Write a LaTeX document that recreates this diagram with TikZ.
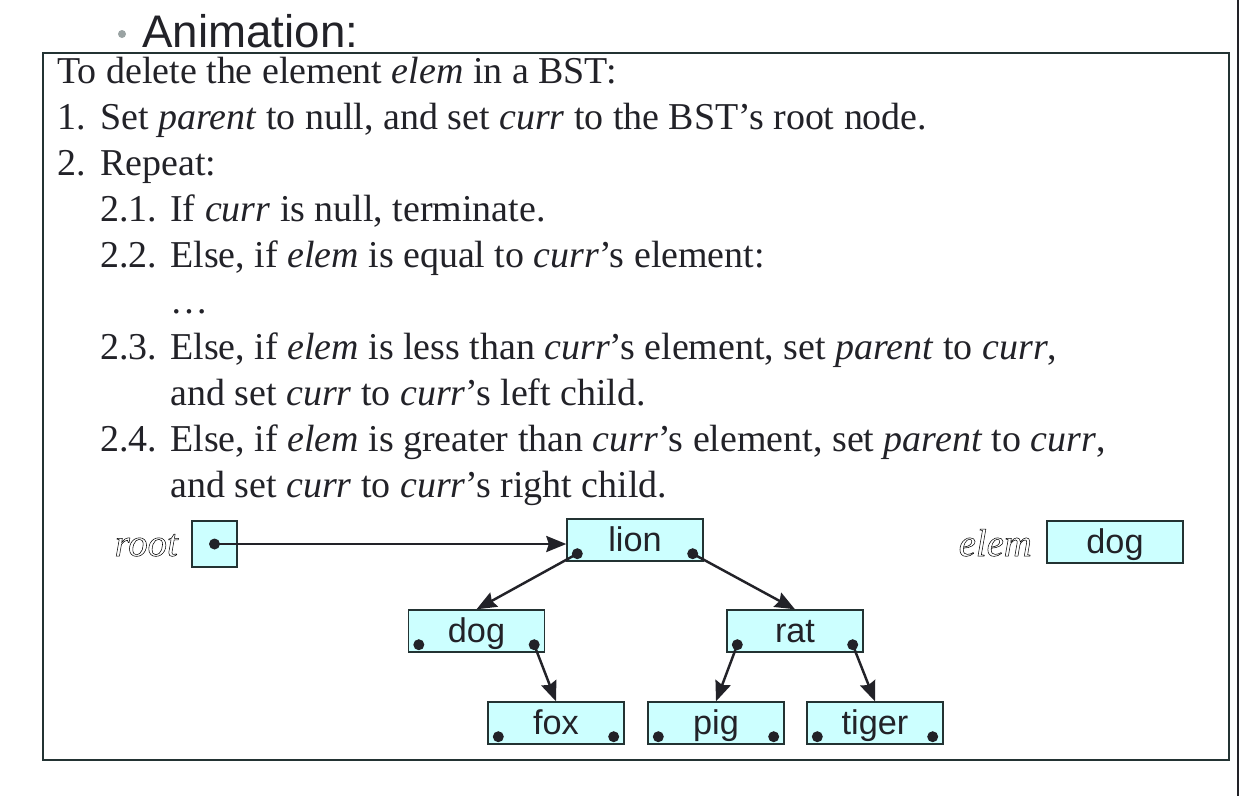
\documentclass[tikz,border=0pt]{standalone}
\usepackage{fontspec}
\setmainfont{Liberation Serif}
\setsansfont{Liberation Sans}
\usetikzlibrary{arrows.meta}

\definecolor{boxfill}{HTML}{CCFFFF}
\definecolor{boxline}{HTML}{233333}
\definecolor{inkdark}{HTML}{222228}
\definecolor{bulletgray}{HTML}{9AA3A3}

\newcommand{\hollow}[1]{\special{pdf:literal direct 1 Tr}#1\special{pdf:literal direct 0 Tr}}

\tikzset{
    txt/.style={anchor=base west, inner sep=0pt, text=inkdark, font=\fontsize{21.6}{26}\selectfont},
    animal/.style={draw=boxline, fill=boxfill, line width=0.8pt, minimum width=2.72cm, minimum height=0.84cm,
        inner sep=0pt, text height=13.6pt, text depth=0pt, text=inkdark, font=\sffamily\fontsize{19.5}{22}\selectfont},
    cell/.style={draw=boxline, fill=boxfill, line width=0.8pt, minimum width=0.9cm, minimum height=0.92cm, inner sep=0pt},
    link/.style={-{Stealth[length=0.4cm, width=0.32cm, inset=0.05cm]}, line width=1.4pt, draw=inkdark},
    ghost/.style={anchor=base east, inner sep=0pt, line width=0.3pt, font=\fontsize{22}{26}\selectfont\itshape}
}

\begin{document}
\begin{tikzpicture}[x=0.02cm, y=-0.02cm]
        \useasboundingbox (0,0) rectangle (1240,796);
        \fill[white] (0,0) rectangle (1240,796);
        \draw[inkdark, line width=0.6pt] (1238,0) -- (1238,796);

        \fill[bulletgray] (122,34) circle (4);
        \node[anchor=base west, inner sep=0pt, text=inkdark, font=\sffamily\fontsize{26}{30}\selectfont] (title) at (142,47) {Animation:};
        \draw[boxline, line width=1pt] (43,53) rectangle (1229,760);

        \node[txt] (intro) at (57,83) {To delete the element \textit{elem} in a BST:};
        \node[txt] (n1) at (57,129) {1.};
        \node[txt] (s1) at (100,129) {Set \textit{parent} to null, and set \textit{curr} to the BST’s root node.};
        \node[txt] (n2) at (57,175) {2.};
        \node[txt] (s2) at (100,175) {Repeat:};
        \node[txt] (n21) at (100,221) {2.1.};
        \node[txt] (s21) at (170,221) {If \textit{curr} is null, terminate.};
        \node[txt] (n22) at (100,267) {2.2.};
        \node[txt] (s22) at (170,267) {Else, if \textit{elem} is equal to \textit{curr}’s element:};
        \node[txt] (dots) at (170,313) {…};
        \node[txt] (n23) at (100,359) {2.3.};
        \node[txt] (s23) at (170,359) {Else, if \textit{elem} is less than \textit{curr}’s element, set \textit{parent} to \textit{curr},};
        \node[txt] (s23b) at (170,405) {and set \textit{curr} to \textit{curr}’s left child.};
        \node[txt] (n24) at (100,451) {2.4.};
        \node[txt] (s24) at (170,451) {Else, if \textit{elem} is greater than \textit{curr}’s element, set \textit{parent} to \textit{curr},};
        \node[txt] (s24b) at (170,497) {and set \textit{curr} to \textit{curr}’s right child.};

        \node[ghost] (rootlabel) at (178,556) {\hollow{root}};
        \node[cell] (root) at (214.5,544) {};
        \node[ghost] (elemlabel) at (1032,556) {\hollow{elem}};
        \node[animal] (elem) at (1115,542) {dog};

        \node[animal] (lion) at (635,540) {lion};
        \node[animal] (dog) at (476.5,631) {dog};
        \node[animal] (rat) at (795,631) {rat};
        \node[animal] (fox) at (556,723) {fox};
        \node[animal] (pig) at (716,723) {pig};
        \node[animal] (tiger) at (875,723) {tiger};

        \foreach \n in {lion, dog, rat, fox, pig, tiger}
        {
            \coordinate (\n-l) at ([shift={(11,-8)}]\n.south west);
            \coordinate (\n-r) at ([shift={(-11,-8)}]\n.south east);
        }

        \draw[link] (root.center) -- (root.center -| lion.west);
        \draw[link] (lion-l) -- (dog.north);
        \draw[link] (lion-r) -- (rat.north);
        \draw[link] (dog-r) -- (fox.north);
        \draw[link] (rat-l) -- (pig.north);
        \draw[link] (rat-r) -- (tiger.north);

        \fill[inkdark] (root.center) circle (5.5);
        \foreach \n in {lion, dog, rat, fox, pig, tiger}
        {
            \fill[inkdark] (\n-l) circle (5.5);
            \fill[inkdark] (\n-r) circle (5.5);
        }
    \end{tikzpicture}
\end{document}
